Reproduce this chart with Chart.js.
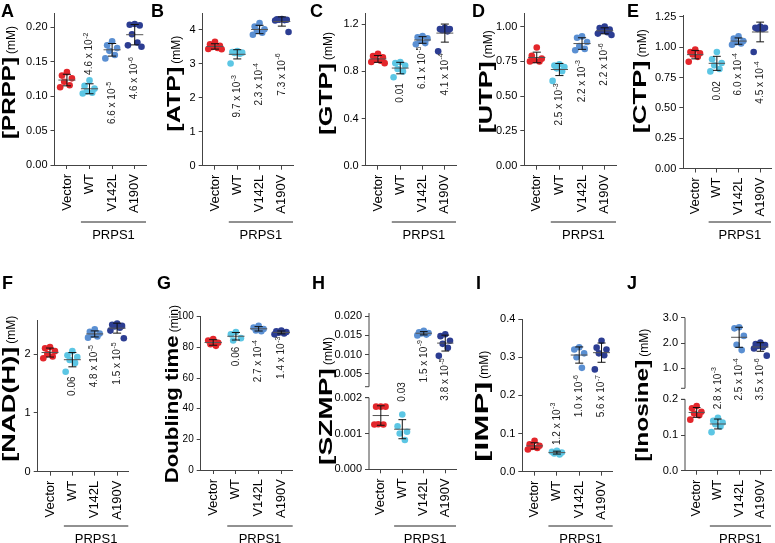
<!doctype html>
<html>
<head>
	<title>PRPS1 metabolite panels</title>
	<script src="https://cdn.jsdelivr.net/npm/chart.js@4.4.1/dist/chart.umd.min.js"></script>
	<style>
		body { margin: 0; background: #fff; }
		#fig { position: relative; width: 775px; height: 543px; overflow: hidden; }
		#fig canvas { position: absolute; }
	</style>
</head>
<body>
	<div id="fig"></div>
	<script>
		const groups = ['Vector', 'WT', 'V142L', 'A190V'];

		// A - PRPP (mM)
		const prpp = [
			[0.135, 0.130, 0.126, 0.121, 0.116, 0.113],
			[0.123, 0.115, 0.111, 0.107, 0.105, 0.104],
			[0.180, 0.174, 0.170, 0.166, 0.160, 0.155],
			[0.205, 0.204, 0.203, 0.190, 0.178, 0.174, 0.172]
		];
		const prppP = [null, '4.6 x 10^-2', '6.6 x 10^-5', '4.6 x 10^-6'];
		const prppTicks = [0, 0.05, 0.10, 0.15, 0.20];
		const prppTickLabels = ['0.00', '0.05', '0.10', '0.15', '0.20'];

		// B - ATP (mM)
		const atp = [
			[3.65, 3.58, 3.53, 3.50, 3.47, 3.44, 3.43],
			[3.38, 3.35, 3.33, 3.32, 3.30, 3.01],
			[4.20, 4.10, 4.02, 3.98, 3.92, 3.86],
			[4.32, 4.31, 4.30, 4.30, 4.29, 4.28, 3.94]
		];
		const atpP = [null, '9.7 x 10^-3', '2.3 x 10^-4', '7.3 x 10^-6'];
		const atpTicks = [0, 1, 2, 3, 4];
		const atpTickLabels = ['0', '1', '2', '3', '4'];

		// C - GTP (mM)
		const gtp = [
			[0.95, 0.93, 0.92, 0.90, 0.89, 0.88, 0.87],
			[0.88, 0.87, 0.85, 0.82, 0.80, 0.75],
			[1.10, 1.09, 1.08, 1.06, 1.04, 1.03],
			[1.17, 1.16, 1.16, 1.15, 1.14, 0.97]
		];
		const gtpP = [null, '0.01', '6.1 x 10^-5', '4.1 x 10^-4'];
		const gtpTicks = [0, 0.4, 0.8, 1.2];
		const gtpTickLabels = ['0.0', '0.4', '0.8', '1.2'];

		// D - UTP (mM)
		const utp = [
			[0.85, 0.79, 0.77, 0.76, 0.75, 0.75],
			[0.73, 0.72, 0.71, 0.70, 0.68, 0.61],
			[0.93, 0.92, 0.89, 0.86, 0.84, 0.83],
			[1.00, 0.99, 0.98, 0.97, 0.96, 0.95, 0.94]
		];
		const utpP = [null, '2.5 x 10^-3', '2.2 x 10^-3', '2.2 x 10^-6'];
		const utpTicks = [0, 0.25, 0.5, 0.75, 1.0];
		const utpTickLabels = ['0.00', '0.25', '0.50', '0.75', '1.00'];

		// E - CTP (mM)
		const ctp = [
			[0.98, 0.96, 0.95, 0.94, 0.92, 0.88],
			[0.96, 0.90, 0.87, 0.85, 0.82, 0.80],
			[1.09, 1.07, 1.05, 1.04, 1.03, 1.02],
			[1.17, 1.16, 1.16, 1.15, 1.15, 0.96]
		];
		const ctpP = [null, '0.02', '6.0 x 10^-4', '4.5 x 10^-4'];
		const ctpTicks = [0, 0.25, 0.5, 0.75, 1.0, 1.25];
		const ctpTickLabels = ['0.00', '0.25', '0.50', '0.75', '1.00', '1.25'];

		// F - NAD(H) (mM)
		const nadh = [
			[2.12, 2.10, 2.05, 2.00, 1.96, 1.93],
			[2.05, 1.98, 1.95, 1.90, 1.85, 1.70],
			[2.42, 2.38, 2.35, 2.33, 2.30, 2.28],
			[2.52, 2.50, 2.48, 2.47, 2.45, 2.40, 2.27]
		];
		const nadhP = [null, '0.06', '4.8 x 10^-5', '1.5 x 10^-5'];
		const nadhTicks = [0, 1, 2];
		const nadhTickLabels = ['0', '1', '2'];

		// G - doubling time (min)
		const doubling = [
			[85.5, 84.5, 83, 82, 81],
			[90, 88.5, 86, 84.5],
			[94, 93, 92, 91, 90.5],
			[91, 90.5, 90, 89.5, 89, 88.5]
		];
		const doublingP = [null, '0.06', '2.7 x 10^-4', '1.4 x 10^-3'];
		const doublingTicks = [0, 20, 40, 60, 80, 100];
		const doublingTickLabels = ['0', '20', '40', '60', '80', '100'];

		// H - SZMP (mM), broken axis
		const szmp = [
			[0.00175, 0.00175, 0.00175, 0.00126, 0.00125, 0.00125],
			[0.00153, 0.00120, 0.00105, 0.00100, 0.00082],
			[0.0162, 0.0158, 0.0156, 0.0155, 0.0152, 0.0150],
			[0.0153, 0.0148, 0.0136, 0.0128, 0.0118, 0.0097]
		];
		const szmpP = [null, '0.03', '1.5 x 10^-9', '3.8 x 10^-5'];
		const szmpTicks = [0, 0.001, 0.002, 0.005, 0.010, 0.015, 0.020];
		const szmpTickLabels = ['0.000', '0.001', '0.002', '0.005', '0.010', '0.015', '0.020'];

		// I - IMP (mM)
		const imp = [
			[0.081, 0.072, 0.068, 0.065, 0.062, 0.058],
			[0.055, 0.052, 0.050, 0.048, 0.045],
			[0.326, 0.320, 0.310, 0.300, 0.272],
			[0.343, 0.325, 0.320, 0.310, 0.305, 0.268]
		];
		const impP = [null, '1.2 x 10^-3', '1.0 x 10^-6', '5.6 x 10^-7'];
		const impTicks = [0, 0.1, 0.2, 0.3, 0.4];
		const impTickLabels = ['0.0', '0.1', '0.2', '0.3', '0.4'];

		// J - inosine (mM), broken axis
		const inosine = [
			[0.181, 0.175, 0.165, 0.160, 0.155, 0.143],
			[0.148, 0.140, 0.135, 0.130, 0.124, 0.108],
			[2.62, 2.58, 2.28, 1.93, 1.72],
			[2.02, 1.96, 1.92, 1.88, 1.84, 1.78, 1.50]
		];
		const inosineP = [null, '2.8 x 10^-3', '2.5 x 10^-4', '3.5 x 10^-6'];
		const inosineTicks = [0, 0.1, 0.2, 1.0, 2.0, 3.0];
		const inosineTickLabels = ['0.0', '0.1', '0.2', '1.0', '2.0', '3.0'];

		// styling / layout
		const colors = ['#e3262b', '#5cc6e4', '#5a8fd2', '#2c3d92'];
		const jitter = [0, -0.22, 0.22, -0.12, 0.12, -0.3, 0.3];
		const axisColor = '#444';
		const FONT = '"Liberation Sans", Arial, Helvetica, sans-serif';
		Chart.defaults.font.family = FONT;

		// cell: [x, y, w, h]; plot: [left, top, right, bottom] in page pixels
		const panels = [
			{ letter: 'A', title: '[PRPP]', unit: '(mM)', values: prpp, p: prppP, ticks: prppTicks, tickLabels: prppTickLabels, max: 0.221,
				cell: [0, 0, 150, 270], plot: [54.5, 13, 146, 165], letterAt: [1, 17], titleAt: [15, 139, 82], bracketY: 222,
				pPos: [null, ['up', 0.131], ['down', 0.121], ['down', 0.157]] },
			{ letter: 'B', title: '[ATP]', unit: '(mM)', values: atp, p: atpP, ticks: atpTicks, tickLabels: atpTickLabels, max: 4.49,
				cell: [150, 0, 150, 270], plot: [202.7, 13.3, 293, 165.7], letterAt: [151, 17], titleAt: [180, 131.7, 65], bracketY: 222,
				pPos: [null, ['down', 2.67], ['down', 3.02], ['down', 3.31]] },
			{ letter: 'C', title: '[GTP]', unit: '(mM)', values: gtp, p: gtpP, ticks: gtpTicks, tickLabels: gtpTickLabels, max: 1.293,
				cell: [300, 0, 160, 270], plot: [365.7, 13.3, 458, 165.7], letterAt: [310, 17], titleAt: [331.7, 135, 72], bracketY: 222,
				pPos: [null, ['down', 0.70], ['down', 1.01], ['down', 0.954]] },
			{ letter: 'D', title: '[UTP]', unit: '(mM)', values: utp, p: utpP, ticks: utpTicks, tickLabels: utpTickLabels, max: 1.096,
				cell: [460, 0, 160, 270], plot: [524.3, 13.3, 616.7, 165.7], letterAt: [472, 17], titleAt: [491.7, 133.3, 72], bracketY: 222,
				pPos: [null, ['down', 0.593], ['down', 0.760], ['down', 0.88]] },
			{ letter: 'E', title: '[CTP]', unit: '(mM)', values: ctp, p: ctpP, ticks: ctpTicks, tickLabels: ctpTickLabels, max: 1.265,
				cell: [620, 0, 155, 270], plot: [683.3, 15, 773, 168.5], letterAt: [627, 17], titleAt: [646, 133.3, 73], bracketY: 222,
				pPos: [null, ['down', 0.72], ['down', 0.951], ['down', 0.883]] },
			{ letter: 'F', title: '[NAD(H)]', unit: '(mM)', values: nadh, p: nadhP, ticks: nadhTicks, tickLabels: nadhTickLabels, max: 2.58,
				cell: [0, 270, 150, 273], plot: [37.7, 320, 128.3, 471.7], letterAt: [2, 289], titleAt: [15, 461.7, 115], bracketY: 526,
				pPos: [null, ['down', 1.62], ['down', 2.155], ['down', 2.2]] },
			{ letter: 'G', title: 'Doubling time', unit: '(min)', values: doubling, p: doublingP, ticks: doublingTicks, tickLabels: doublingTickLabels, max: 100,
				tickFont: 10, cell: [150, 270, 150, 273], plot: [200.7, 316.7, 292.7, 470], letterAt: [157, 289], titleAt: [177.5, 483.3, 148], bracketY: 526,
				pPos: [null, ['down', 80.4], ['down', 84.8], ['down', 87]] },
			{ letter: 'H', title: '[SZMP]', unit: '(mM)', values: szmp, p: szmpP, ticks: szmpTicks, tickLabels: szmpTickLabels,
				seg: { low: [0, 0.002], lowSize: 71.6, gap: 11, up: [0.0017, 0.0208], upSize: 73.7 },
				cell: [300, 270, 160, 273], plot: [369, 313, 460, 469.3], letterAt: [312, 289], titleAt: [331.7, 465, 97], bracketY: 526,
				pPos: [null, ['up', 0.00189], ['down', 0.01378], ['down', 0.00904]] },
			{ letter: 'I', title: '[IMP]', unit: '(mM)', values: imp, p: impP, ticks: impTicks, tickLabels: impTickLabels, max: 0.4,
				cell: [460, 270, 160, 273], plot: [522.3, 319, 612.7, 471.7], letterAt: [476, 289], titleAt: [488.3, 461.7, 80], bracketY: 526,
				pPos: [null, ['up', 0.070], ['down', 0.2533], ['down', 0.2533]] },
			{ letter: 'J', title: '[Inosine]', unit: '(mM)', values: inosine, p: inosineP, ticks: inosineTicks, tickLabels: inosineTickLabels,
				seg: { low: [0, 0.2], lowSize: 71.4, gap: 11, up: [0.21, 3.0], upSize: 70.6 },
				cell: [620, 270, 155, 273], plot: [685, 317.7, 773, 470.7], letterAt: [627, 289], titleAt: [648.3, 461.7, 102], bracketY: 526,
				pPos: [null, ['up', 0.172], ['down', 1.395], ['down', 1.395]] }
		];

		function mean(a) { return a.reduce((s, v) => s + v, 0) / a.length; }
		function sd(a) {
			const m = mean(a);
			return Math.sqrt(a.reduce((s, v) => s + (v - m) * (v - m), 0) / (a.length - 1));
		}
		function line(ctx, x1, y1, x2, y2) {
			ctx.beginPath(); ctx.moveTo(x1, y1); ctx.lineTo(x2, y2); ctx.stroke();
		}
		// maps a value onto the (possibly broken) axis
		function segMap(seg) {
			if (!seg) return v => v;
			return v => v <= seg.low[1]
				? (v - seg.low[0]) / (seg.low[1] - seg.low[0]) * seg.lowSize
				: seg.lowSize + seg.gap + (v - seg.up[0]) / (seg.up[1] - seg.up[0]) * seg.upSize;
		}

		function drawP(ctx, x, y, text, side) {
			const parts = text.split('^');
			const mainFont = '10px ' + FONT, supFont = '7px ' + FONT;
			ctx.save();
			ctx.translate(x, y);
			ctx.rotate(-Math.PI / 2);
			ctx.fillStyle = '#222';
			ctx.textBaseline = 'middle';
			ctx.textAlign = 'left';
			ctx.font = mainFont;
			const wb = ctx.measureText(parts[0]).width;
			ctx.font = supFont;
			const ws = parts[1] ? ctx.measureText(parts[1]).width + 0.5 : 0;
			const start = side === 'up' ? 0 : -(wb + ws);
			ctx.font = mainFont;
			ctx.fillText(parts[0], start, 0);
			if (parts[1]) {
				ctx.font = supFont;
				ctx.fillText(parts[1], start + wb + 0.5, -3.5);
			}
			ctx.restore();
		}

		function panelPlugin(p, map) {
			const ox = p.cell[0], oy = p.cell[1];
			return {
				id: 'panel' + p.letter,
				afterDatasetsDraw(chart) {
					const { ctx, scales: { x, y } } = chart;
					const step = x.getPixelForValue(2) - x.getPixelForValue(1);
					p.values.forEach((vals, i) => {
						const m = mean(vals), s = sd(vals);
						const cx = x.getPixelForValue(i + 1);
						const ym = y.getPixelForValue(map(m));
						const yt = y.getPixelForValue(map(m + s));
						const yb = y.getPixelForValue(map(m - s));
						ctx.save();
						ctx.lineWidth = 1;
						ctx.strokeStyle = '#555';
						line(ctx, cx - 0.38 * step, ym, cx + 0.38 * step, ym);
						ctx.strokeStyle = '#111';
						line(ctx, cx, yt, cx, yb);
						line(ctx, cx - 0.18 * step, yt, cx + 0.18 * step, yt);
						line(ctx, cx - 0.18 * step, yb, cx + 0.18 * step, yb);
						ctx.restore();
					});
				},
				afterDraw(chart) {
					const { ctx, chartArea: area, scales: { x, y } } = chart;
					const step = x.getPixelForValue(2) - x.getPixelForValue(1);
					ctx.save();

					// broken y axis
					if (p.seg) {
						ctx.strokeStyle = axisColor;
						ctx.lineWidth = 1;
						const yLow = y.getPixelForValue(p.seg.lowSize);
						const yUp = y.getPixelForValue(p.seg.lowSize + p.seg.gap);
						line(ctx, area.left, area.bottom, area.left, yLow);
						line(ctx, area.left, yUp, area.left, area.top);
						line(ctx, area.left - 4, yUp, area.left, yUp);
						line(ctx, area.left - 4, yLow, area.left, yLow);
					}

					// category labels
					ctx.fillStyle = '#000';
					ctx.font = '13px ' + FONT;
					groups.forEach((g, i) => {
						ctx.save();
						ctx.translate(x.getPixelForValue(i + 1), area.bottom + 9);
						ctx.rotate(-Math.PI / 2);
						ctx.textAlign = 'right';
						ctx.textBaseline = 'middle';
						ctx.fillText(g, 0, 0);
						ctx.restore();
					});

					// PRPS1 bracket
					const bx1 = x.getPixelForValue(2) - 0.38 * step;
					const by = p.bracketY - oy;
					ctx.strokeStyle = '#222';
					ctx.lineWidth = 1;
					line(ctx, bx1, by, area.right, by);
					ctx.textAlign = 'center';
					ctx.textBaseline = 'middle';
					ctx.fillText('PRPS1', (bx1 + area.right) / 2, by + 13);

					// p-values
					p.p.forEach((txt, i) => {
						if (!txt) return;
						const [side, v] = p.pPos[i];
						drawP(ctx, x.getPixelForValue(i + 1), y.getPixelForValue(map(v)), txt, side);
					});

					// panel letter
					ctx.font = 'bold 18px ' + FONT;
					ctx.textAlign = 'left';
					ctx.textBaseline = 'alphabetic';
					ctx.fillText(p.letter, p.letterAt[0] - ox, p.letterAt[1] - oy);

					// y title: bold name + small unit
					const [tx, ty, len] = p.titleAt;
					ctx.translate(tx - ox, ty - oy);
					ctx.rotate(-Math.PI / 2);
					ctx.font = 'bold 18px ' + FONT;
					const w = ctx.measureText(p.title).width;
					ctx.save();
					ctx.scale(len / w, 1);
					ctx.fillText(p.title, 0, 0);
					ctx.restore();
					ctx.font = '12px ' + FONT;
					ctx.fillText(p.unit, len + 3, 0);
					ctx.restore();
				}
			};
		}

		const fig = document.getElementById('fig');
		panels.forEach((p) => {
			const [cx, cy, cw, ch] = p.cell;
			const [pl, pt, pr, pb] = p.plot;
			const map = segMap(p.seg);
			const yMax = p.seg ? p.seg.lowSize + p.seg.gap + p.seg.upSize : p.max;

			const cv = document.createElement('canvas');
			cv.width = cw;
			cv.height = ch;
			cv.style.left = cx + 'px';
			cv.style.top = cy + 'px';
			cv.style.width = cw + 'px';
			cv.style.height = ch + 'px';
			fig.appendChild(cv);

			const datasets = p.values.map((vals, i) => ({
				label: groups[i],
				data: vals.map((v, k) => ({ x: i + 1 + jitter[k % jitter.length], y: map(v) })),
				backgroundColor: colors[i],
				borderColor: colors[i],
				borderWidth: 0,
				pointRadius: 3.3,
				clip: false
			}));

			new Chart(cv, {
				type: 'scatter',
				data: { datasets },
				options: {
					responsive: false,
					animation: false,
					events: [],
					layout: { padding: { left: 0, top: pt - cy, right: cx + cw - pr, bottom: 0 } },
					plugins: { legend: { display: false }, tooltip: { enabled: false } },
					scales: {
						x: {
							type: 'linear',
							min: 0.45,
							max: 4.5,
							afterBuildTicks: (s) => { s.ticks = [1, 2, 3, 4].map(v => ({ value: v })); },
							afterFit: (s) => { s.height = cy + ch - pb; },
							ticks: { display: false },
							grid: { display: true, drawOnChartArea: false, drawTicks: true, tickLength: 4, color: axisColor },
							border: { display: true, color: axisColor, width: 1 }
						},
						y: {
							type: 'linear',
							min: 0,
							max: yMax,
							afterBuildTicks: (s) => { s.ticks = p.ticks.map(v => ({ value: map(v) })); },
							afterFit: (s) => { s.width = pl - cx; },
							ticks: {
								autoSkip: false,
								callback: (v, i) => p.tickLabels[i],
								color: '#000',
								padding: 3,
								font: { size: p.tickFont || 11 }
							},
							grid: { display: true, drawOnChartArea: false, drawTicks: true, tickLength: 4, color: axisColor },
							border: { display: !p.seg, color: axisColor, width: 1 }
						}
					}
				},
				plugins: [panelPlugin(p, map)]
			});
		});
	</script>
</body>
</html>
